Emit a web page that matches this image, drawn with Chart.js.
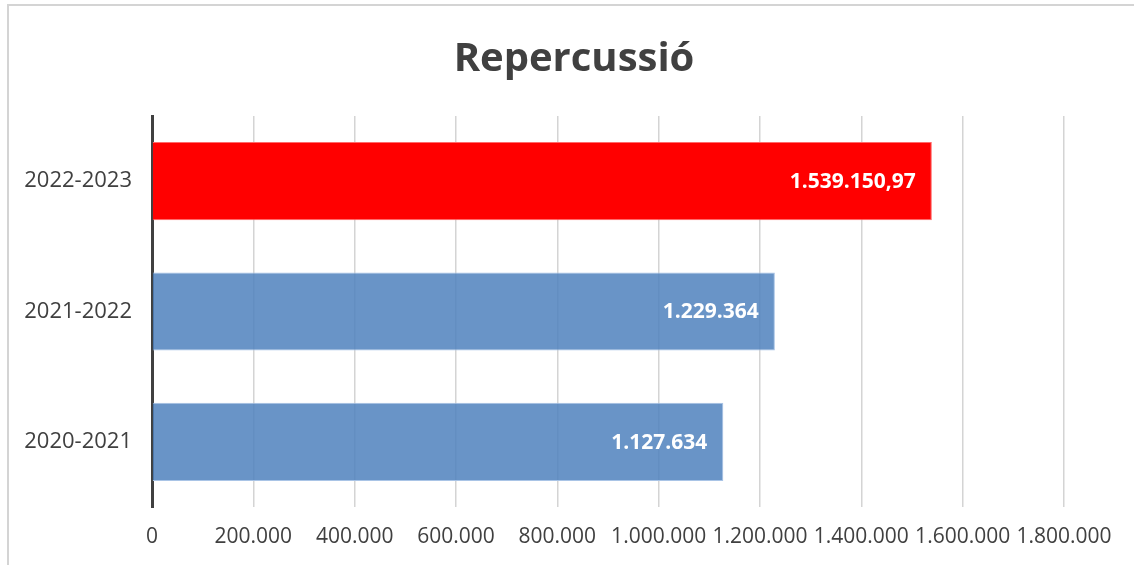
<!DOCTYPE html>
<html>
<head>
<meta charset="utf-8">
<script src="https://cdn.jsdelivr.net/npm/chart.js@4.4.0/dist/chart.umd.min.js"></script>
<style>
    html, body { margin: 0; padding: 0; background: #fff; overflow: hidden; }
    #wrap { position: relative; width: 1134px; height: 565px; }
    #frame {
        position: absolute; left: 7px; top: 4px; width: 1140px; height: 570px;
        border: 2px solid #d4d4d4; box-sizing: border-box; pointer-events: none;
    }
</style>
</head>
<body>
<div id="wrap">
    <canvas id="chart" width="1134" height="565"></canvas>
    <div id="frame"></div>
</div>
<script>
const categories = ["2022-2023", "2021-2022", "2020-2021"];
const values = [1539150.97, 1229364, 1127634];
const valueLabels = ["1.539.150,97", "1.229.364", "1.127.634"];
const barColors = ["#ff0000", "rgba(79,129,189,0.85)", "rgba(79,129,189,0.85)"];
const barEdges = ["#ff6a6a", "#a9c4e6", "#a9c4e6"];
const axisMax = 1800000;
const axisStep = 200000;

const FONT = "'Open Sans', 'Liberation Sans', sans-serif";

function thousands(v) {
    return String(Math.round(v)).replace(/\B(?=(\d{3})+(?!\d))/g, ".");
}

// white bold value labels at the end of each bar
const barLabels = {
    id: "barLabels",
    afterDatasetsDraw(chart) {
        const { ctx } = chart;
        const meta = chart.getDatasetMeta(0);
        ctx.save();
        ctx.font = "bold 21px " + FONT;
        ctx.fillStyle = "#ffffff";
        ctx.textAlign = "right";
        ctx.textBaseline = "middle";
        meta.data.forEach((bar, i) => {
            ctx.fillText(valueLabels[i], bar.x - 16, bar.y + 1);
        });
        ctx.restore();
    },
};

new Chart(document.getElementById("chart"), {
    type: "bar",
    data: {
        labels: categories,
        datasets: [{
            data: values,
            backgroundColor: barColors,
            borderColor: barEdges,
            borderWidth: 1,
            borderSkipped: "left",
            barPercentage: 0.6,
            categoryPercentage: 1,
        }],
    },
    options: {
        indexAxis: "y",
        responsive: false,
        animation: false,
        layout: { padding: { left: 14, right: 0, top: 0, bottom: 0 } },
        plugins: {
            legend: { display: false },
            tooltip: { enabled: false },
            title: {
                display: true,
                text: "Repercussió",
                color: "#404040",
                font: { family: FONT, size: 40, weight: "bold" },
                padding: { top: 36, bottom: 32 },
            },
        },
        scales: {
            x: {
                min: 0,
                max: axisMax,
                ticks: {
                    stepSize: axisStep,
                    color: "#404040",
                    font: { family: FONT, size: 21 },
                    padding: 17,
                    maxRotation: 0,
                    autoSkip: false,
                    callback: (v) => thousands(v),
                },
                grid: { color: "#d4d4d4", lineWidth: 1.5, drawTicks: false },
                border: { display: false },
                afterFit(scale) {
                    scale.height = 58;
                    scale.paddingRight = 70;
                },
            },
            y: {
                ticks: {
                    color: "#404040",
                    font: { family: FONT, size: 22 },
                    padding: 20,
                },
                grid: { display: false, drawTicks: false },
                border: { display: true, color: "#404040", width: 3 },
                afterFit(scale) { scale.width = 138; },
            },
        },
    },
    plugins: [barLabels],
});
</script>
</body>
</html>
